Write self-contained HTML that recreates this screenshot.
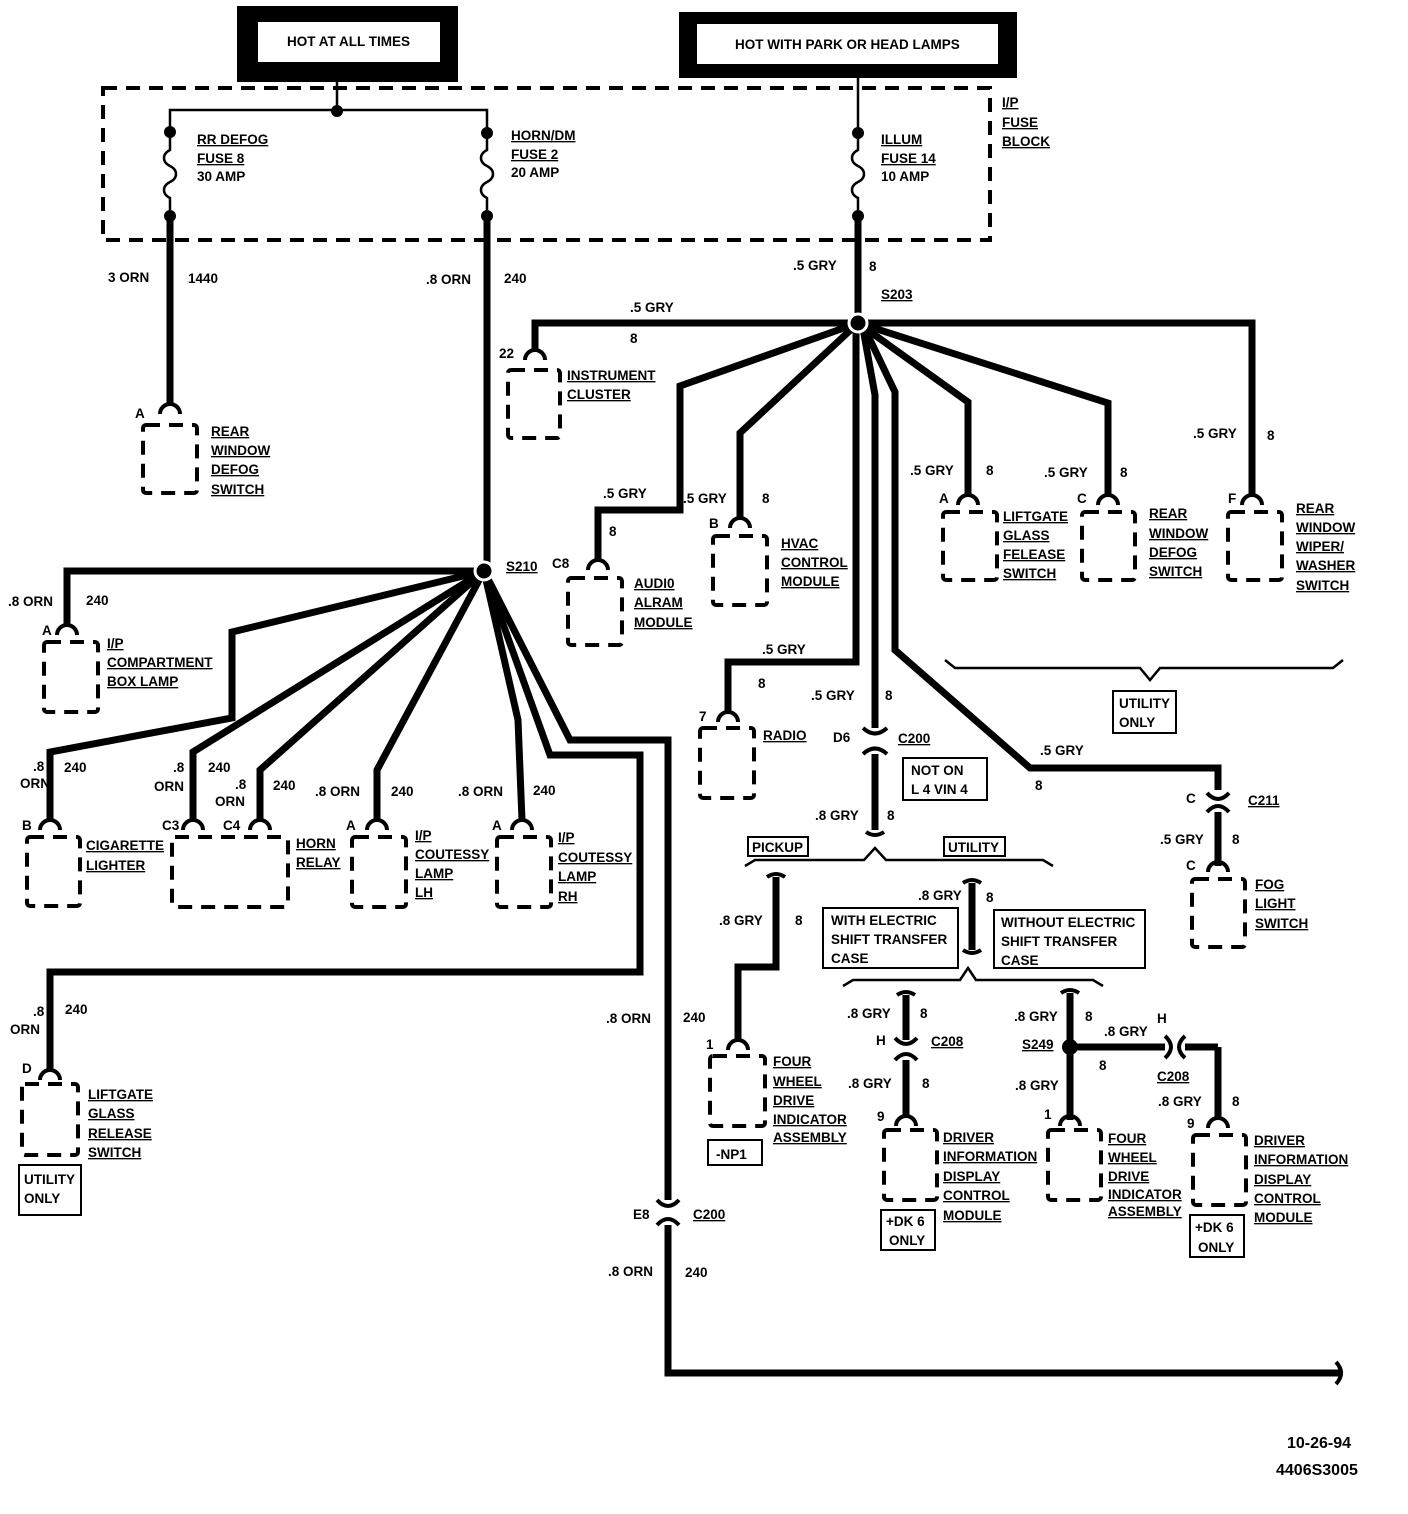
<!DOCTYPE html>
<html><head><meta charset="utf-8">
<style>
html,body{margin:0;padding:0;background:#fff}
svg{display:block}
text{font-family:"Liberation Sans",Arial,sans-serif;font-weight:bold;font-size:13.5px;fill:#000}
.u{text-decoration:underline}
.w{fill:none;stroke:#000;stroke-width:7;stroke-linejoin:miter}
.t{fill:none;stroke:#000;stroke-width:2.5}
.d{fill:none;stroke:#000;stroke-width:4;stroke-dasharray:14 9}
.c{fill:none;stroke:#000;stroke-width:4}
.b{fill:#fff;stroke:#000;stroke-width:2}
</style></head><body>
<svg width="1408" height="1514" viewBox="0 0 1408 1514" xmlns="http://www.w3.org/2000/svg">
<rect x="237" y="6" width="221" height="76" fill="#000"/>
<rect x="258" y="22" width="182" height="40" fill="#fff"/>
<text x="287" y="46">HOT AT ALL TIMES</text>
<rect x="679" y="12" width="338" height="66" fill="#000"/>
<rect x="697" y="24" width="301" height="40" fill="#fff"/>
<text x="735" y="49">HOT WITH PARK OR HEAD LAMPS</text>

<rect x="103" y="88" width="887" height="152" class="d"/>
<text x="1002" y="107" class="u">I/P</text>
<text x="1002" y="127" class="u">FUSE</text>
<text x="1002" y="146" class="u">BLOCK</text>

<path d="M337 82V110M170 132V110H487V132" class="t"/>
<circle cx="337" cy="111" r="6"/>
<path d="M858 78V132" class="t"/>
<g>
<path d="M170 132V150c-8 4-8 12 0 16s8 12 0 16s-8 12 0 16V216" class="t"/>
<circle cx="170" cy="132" r="6"/><circle cx="170" cy="216" r="6"/>
<path d="M487 133V150c-8 4-8 12 0 16s8 12 0 16s-8 12 0 16V216" class="t"/>
<circle cx="487" cy="133" r="6"/><circle cx="487" cy="216" r="6"/>
<path d="M858 133V150c-8 4-8 12 0 16s8 12 0 16s-8 12 0 16V216" class="t"/>
<circle cx="858" cy="133" r="6"/><circle cx="858" cy="216" r="6"/>
</g>
<text x="197" y="144" class="u">RR DEFOG</text>
<text x="197" y="163" class="u">FUSE 8</text>
<text x="197" y="181">30 AMP</text>
<text x="511" y="140" class="u">HORN/DM</text>
<text x="511" y="159" class="u">FUSE 2</text>
<text x="511" y="177">20 AMP</text>
<text x="881" y="144" class="u">ILLUM</text>
<text x="881" y="163" class="u">FUSE 14</text>
<text x="881" y="181">10 AMP</text>

<path d="M170 216V404M487 216V568M858 216V318" class="w"/>
<text x="108" y="282">3 ORN</text><text x="188" y="283">1440</text>
<text x="426" y="284">.8 ORN</text><text x="504" y="283">240</text>
<text x="793" y="270">.5 GRY</text><text x="869" y="271">8</text>
<text x="881" y="299" class="u">S203</text>

<path d="M160 414a10 10 0 0 1 20 0" class="c"/>
<rect x="143" y="425" width="54" height="68" rx="3" class="d"/>
<text x="135" y="418">A</text>
<text x="211" y="436" class="u">REAR</text>
<text x="211" y="455" class="u">WINDOW</text>
<text x="211" y="474" class="u">DEFOG</text>
<text x="211" y="494" class="u">SWITCH</text>

<path d="M858 323H535V350" class="w"/>
<path d="M858 323L680 386V510H598V560" class="w"/>
<path d="M858 323L740 433V518" class="w"/>
<path d="M856 323V662H728V712" class="w"/>
<path d="M862 323L875 395V728M875 754V830" class="w"/>
<path d="M862 323L895 392V650L1030 768H1218V790" class="w"/>
<path d="M1218 812V866" class="w"/>
<path d="M858 323L968 402V495" class="w"/>
<path d="M858 323L1108 403V495" class="w"/>
<path d="M858 323H1252V495" class="w"/>
<circle cx="858" cy="323" r="9" fill="#000" stroke="#fff" stroke-width="3"/>

<text x="630" y="312">.5 GRY</text><text x="630" y="343">8</text>
<path d="M525 360a10 10 0 0 1 20 0" class="c"/>
<text x="499" y="358">22</text>
<rect x="508" y="370" width="52" height="68" rx="3" class="d"/>
<text x="567" y="380" class="u">INSTRUMENT</text>
<text x="567" y="399" class="u">CLUSTER</text>

<text x="603" y="498">.5 GRY</text><text x="609" y="536">8</text>
<path d="M588 570a10 10 0 0 1 20 0" class="c"/>
<text x="552" y="568">C8</text>
<rect x="568" y="578" width="54" height="67" rx="3" class="d"/>
<text x="634" y="588" class="u">AUDI0</text>
<text x="634" y="607" class="u">ALRAM</text>
<text x="634" y="627" class="u">MODULE</text>

<text x="683" y="503">.5 GRY</text><text x="762" y="503">8</text>
<path d="M730 528a10 10 0 0 1 20 0" class="c"/>
<text x="709" y="528">B</text>
<rect x="713" y="536" width="54" height="69" rx="3" class="d"/>
<text x="781" y="548" class="u">HVAC</text>
<text x="781" y="567" class="u">CONTROL</text>
<text x="781" y="586" class="u">MODULE</text>

<text x="762" y="654">.5 GRY</text><text x="758" y="688">8</text>
<path d="M718 722a10 10 0 0 1 20 0" class="c"/>
<text x="699" y="721">7</text>
<rect x="700" y="728" width="54" height="70" rx="3" class="d"/>
<text x="763" y="740" class="u">RADIO</text>

<text x="910" y="475">.5 GRY</text><text x="986" y="475">8</text>
<path d="M958 505a10 10 0 0 1 20 0" class="c"/>
<text x="939" y="503">A</text>
<rect x="943" y="512" width="54" height="68" rx="3" class="d"/>
<text x="1003" y="521" class="u">LIFTGATE</text>
<text x="1003" y="540" class="u">GLASS</text>
<text x="1003" y="559" class="u">FELEASE</text>
<text x="1003" y="578" class="u">SWITCH</text>

<text x="1044" y="477">.5 GRY</text><text x="1120" y="477">8</text>
<path d="M1098 505a10 10 0 0 1 20 0" class="c"/>
<text x="1077" y="503">C</text>
<rect x="1082" y="512" width="53" height="68" rx="3" class="d"/>
<text x="1149" y="518" class="u">REAR</text>
<text x="1149" y="538" class="u">WINDOW</text>
<text x="1149" y="557" class="u">DEFOG</text>
<text x="1149" y="576" class="u">SWITCH</text>

<text x="1193" y="438">.5 GRY</text><text x="1267" y="440">8</text>
<path d="M1242 505a10 10 0 0 1 20 0" class="c"/>
<text x="1228" y="503">F</text>
<rect x="1228" y="512" width="54" height="68" rx="3" class="d"/>
<text x="1296" y="513" class="u">REAR</text>
<text x="1296" y="532" class="u">WINDOW</text>
<text x="1296" y="551" class="u">WIPER/</text>
<text x="1296" y="570" class="u">WASHER</text>
<text x="1296" y="590" class="u">SWITCH</text>

<path d="M945 660L955 668H1140L1150 680L1160 668H1333L1343 660" class="t"/>
<rect x="1113" y="691" width="63" height="42" class="b"/>
<text x="1119" y="708">UTILITY</text><text x="1119" y="727">ONLY</text>

<text x="1040" y="755">.5 GRY</text><text x="1035" y="790">8</text>
<path d="M1207 793q11 12 22 0M1207 812q11 -12 22 0" class="c"/>
<text x="1186" y="803">C</text><text x="1248" y="805" class="u">C211</text>
<text x="1160" y="844">.5 GRY</text><text x="1232" y="844">8</text>
<path d="M1208 872a10 10 0 0 1 20 0" class="c"/>
<text x="1186" y="870">C</text>
<rect x="1192" y="879" width="53" height="68" rx="3" class="d"/>
<text x="1255" y="889" class="u">FOG</text>
<text x="1255" y="908" class="u">LIGHT</text>
<text x="1255" y="928" class="u">SWITCH</text>

<text x="811" y="700">.5 GRY</text><text x="885" y="700">8</text>
<path d="M863 728q12 11 24 0M863 754q12 -11 24 0" class="c"/>
<text x="833" y="742">D6</text><text x="898" y="743" class="u">C200</text>
<rect x="903" y="758" width="84" height="42" class="b"/>
<text x="911" y="775">NOT ON</text><text x="911" y="794">L 4 VIN 4</text>
<text x="815" y="820">.8 GRY</text><text x="887" y="820">8</text>
<path d="M866 832q9 6 18 0" class="c"/>

<path d="M745 866L755 860H864L875 848L886 860H1043L1053 866" class="t"/>
<rect x="748" y="837" width="60" height="19" class="b"/>
<text x="752" y="852">PICKUP</text>
<rect x="944" y="837" width="61" height="19" class="b"/>
<text x="948" y="852">UTILITY</text>

<path d="M767 877q9 -6 18 0" class="c"/>
<path d="M776 877V967H738V1040" class="w"/>
<text x="719" y="925">.8 GRY</text><text x="795" y="925">8</text>
<text x="683" y="1022">240</text>
<path d="M728 1050a10 10 0 0 1 20 0" class="c"/>
<text x="706" y="1049">1</text>
<rect x="710" y="1056" width="55" height="70" rx="3" class="d"/>
<text x="773" y="1066" class="u">FOUR</text>
<text x="773" y="1086" class="u">WHEEL</text>
<text x="773" y="1105" class="u">DRIVE</text>
<text x="773" y="1124" class="u">INDICATOR</text>
<text x="773" y="1142" class="u">ASSEMBLY</text>
<rect x="708" y="1140" width="54" height="25" class="b"/>
<text x="716" y="1159">-NP1</text>

<text x="918" y="900">.8 GRY</text><text x="986" y="902">8</text>
<path d="M963 883q9 -6 18 0" class="c"/>
<path d="M972 883V950" class="w"/>
<path d="M963 950q9 6 18 0" class="c"/>
<path d="M843 986L853 980H960L968 968L976 980H1093L1103 986" class="t"/>
<rect x="823" y="908" width="135" height="60" class="b"/>
<text x="831" y="925">WITH ELECTRIC</text><text x="831" y="944">SHIFT TRANSFER</text><text x="831" y="963">CASE</text>
<rect x="994" y="910" width="151" height="58" class="b"/>
<text x="1001" y="927">WITHOUT ELECTRIC</text><text x="1001" y="946">SHIFT TRANSFER</text><text x="1001" y="965">CASE</text>

<path d="M897 995q9 -6 18 0" class="c"/>
<path d="M906 995V1040M906 1060V1115" class="w"/>
<path d="M895 1038q11 12 22 0M895 1060q11 -12 22 0" class="c"/>
<text x="847" y="1018">.8 GRY</text><text x="920" y="1018">8</text>
<text x="876" y="1045">H</text><text x="931" y="1046" class="u">C208</text>
<text x="848" y="1088">.8 GRY</text><text x="922" y="1088">8</text>
<path d="M896 1126a10 10 0 0 1 20 0" class="c"/>
<text x="877" y="1121">9</text>
<rect x="884" y="1130" width="53" height="70" rx="3" class="d"/>
<text x="943" y="1142" class="u">DRIVER</text>
<text x="943" y="1161" class="u">INFORMATION</text>
<text x="943" y="1181" class="u">DISPLAY</text>
<text x="943" y="1200" class="u">CONTROL</text>
<text x="943" y="1220" class="u">MODULE</text>
<rect x="881" y="1210" width="54" height="40" class="b"/>
<text x="886" y="1226">+DK 6</text><text x="889" y="1245">ONLY</text>

<path d="M1061 993q9 -6 18 0" class="c"/>
<path d="M1070 993V1120M1070 1047H1165M1218 1047V1118" class="w"/>
<circle cx="1070" cy="1047" r="8"/>
<path d="M1165 1036q12 11 0 22M1185 1036q-12 11 0 22" class="c"/>
<path d="M1185 1047H1218" class="w"/>
<text x="1014" y="1021">.8 GRY</text><text x="1085" y="1021">8</text>
<text x="1022" y="1049" class="u">S249</text>
<text x="1104" y="1036">.8 GRY</text><text x="1157" y="1023">H</text>
<text x="1099" y="1070">8</text>
<text x="1157" y="1081" class="u">C208</text>
<text x="1015" y="1090">.8 GRY</text>
<text x="1158" y="1106">.8 GRY</text><text x="1232" y="1106">8</text>
<path d="M1060 1126a10 10 0 0 1 20 0" class="c"/>
<text x="1044" y="1119">1</text>
<rect x="1048" y="1130" width="53" height="70" rx="3" class="d"/>
<text x="1108" y="1143" class="u">FOUR</text>
<text x="1108" y="1162" class="u">WHEEL</text>
<text x="1108" y="1181" class="u">DRIVE</text>
<text x="1108" y="1199" class="u">INDICATOR</text>
<text x="1108" y="1216" class="u">ASSEMBLY</text>
<path d="M1208 1128a10 10 0 0 1 20 0" class="c"/>
<text x="1187" y="1128">9</text>
<rect x="1193" y="1135" width="53" height="70" rx="3" class="d"/>
<text x="1254" y="1145" class="u">DRIVER</text>
<text x="1254" y="1164" class="u">INFORMATION</text>
<text x="1254" y="1184" class="u">DISPLAY</text>
<text x="1254" y="1203" class="u">CONTROL</text>
<text x="1254" y="1222" class="u">MODULE</text>
<rect x="1190" y="1215" width="54" height="42" class="b"/>
<text x="1195" y="1232">+DK 6</text><text x="1198" y="1252">ONLY</text>

<path d="M484 571H67V625" class="w"/>
<path d="M484 571L232 632V718L50 752V820" class="w"/>
<path d="M484 571L193 752V820" class="w"/>
<path d="M484 571L260 770V820" class="w"/>
<path d="M484 571L377 770V820" class="w"/>
<path d="M484 571L518 720L522 820" class="w"/>
<path d="M484 571L550 755H640V972H50V1070" class="w"/>
<path d="M484 571L570 740H668V1200M668 1225V1373H1340" class="w"/>
<path d="M1336 1362q10 11 0 22" class="c"/>
<circle cx="484" cy="571" r="9" fill="#000" stroke="#fff" stroke-width="3"/>
<text x="506" y="571" class="u">S210</text>

<text x="8" y="606">.8 ORN</text><text x="86" y="605">240</text>
<path d="M57 635a10 10 0 0 1 20 0" class="c"/>
<text x="42" y="635">A</text>
<rect x="44" y="642" width="54" height="70" rx="3" class="d"/>
<text x="107" y="648" class="u">I/P</text>
<text x="107" y="667" class="u">COMPARTMENT</text>
<text x="107" y="686" class="u">BOX LAMP</text>

<text x="33" y="771">.8</text><text x="20" y="788">ORN</text><text x="64" y="772">240</text>
<path d="M40 830a10 10 0 0 1 20 0" class="c"/>
<text x="22" y="830">B</text>
<rect x="27" y="837" width="53" height="69" rx="3" class="d"/>
<text x="86" y="850" class="u">CIGARETTE</text>
<text x="86" y="870" class="u">LIGHTER</text>

<text x="173" y="772">.8</text><text x="154" y="791">ORN</text><text x="208" y="772">240</text>
<text x="235" y="789">.8</text><text x="215" y="806">ORN</text><text x="273" y="790">240</text>
<path d="M183 830a10 10 0 0 1 20 0M250 830a10 10 0 0 1 20 0" class="c"/>
<text x="162" y="830">C3</text><text x="223" y="830">C4</text>
<rect x="172" y="837" width="116" height="70" rx="3" class="d"/>
<text x="296" y="848" class="u">HORN</text>
<text x="296" y="867" class="u">RELAY</text>

<text x="315" y="796">.8 ORN</text><text x="391" y="796">240</text>
<path d="M367 830a10 10 0 0 1 20 0" class="c"/>
<text x="346" y="830">A</text>
<rect x="352" y="837" width="54" height="70" rx="3" class="d"/>
<text x="415" y="840" class="u">I/P</text>
<text x="415" y="859" class="u">COUTESSY</text>
<text x="415" y="878" class="u">LAMP</text>
<text x="415" y="897" class="u">LH</text>

<text x="458" y="796">.8 ORN</text><text x="533" y="795">240</text>
<path d="M512 830a10 10 0 0 1 20 0" class="c"/>
<text x="492" y="830">A</text>
<rect x="497" y="837" width="54" height="70" rx="3" class="d"/>
<text x="558" y="842" class="u">I/P</text>
<text x="558" y="862" class="u">COUTESSY</text>
<text x="558" y="881" class="u">LAMP</text>
<text x="558" y="901" class="u">RH</text>

<text x="33" y="1016">.8</text><text x="10" y="1034">ORN</text><text x="65" y="1014">240</text>
<path d="M40 1080a10 10 0 0 1 20 0" class="c"/>
<text x="22" y="1073">D</text>
<rect x="22" y="1084" width="56" height="71" rx="3" class="d"/>
<text x="88" y="1099" class="u">LIFTGATE</text>
<text x="88" y="1118" class="u">GLASS</text>
<text x="88" y="1138" class="u">RELEASE</text>
<text x="88" y="1157" class="u">SWITCH</text>
<rect x="19" y="1165" width="62" height="50" class="b"/>
<text x="24" y="1184">UTILITY</text><text x="24" y="1203">ONLY</text>

<text x="606" y="1023">.8 ORN</text>
<path d="M657 1200q11 12 22 0M657 1225q11 -12 22 0" class="c"/>
<text x="633" y="1219">E8</text><text x="693" y="1219" class="u">C200</text>
<text x="608" y="1276">.8 ORN</text><text x="685" y="1277">240</text>

<text x="1287" y="1448" style="font-size:16px">10-26-94</text>
<text x="1276" y="1475" style="font-size:16px">4406S3005</text>
</svg>
</body></html>
